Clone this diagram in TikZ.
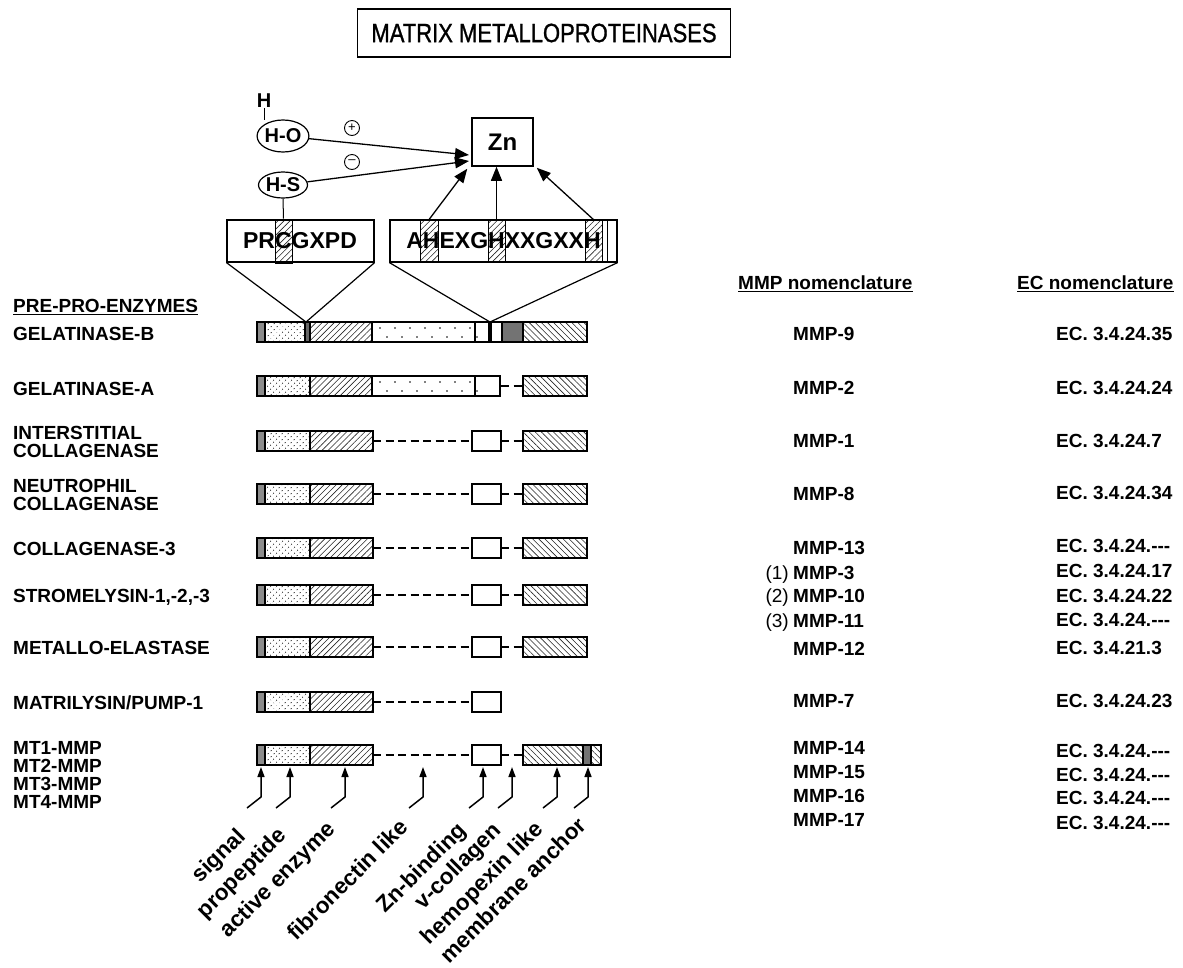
\documentclass[tikz,border=0pt]{standalone}
\usepackage{fontspec}
\setmainfont{Liberation Sans}
\newfontfamily\titlefont[FakeBold=1.2]{Liberation Sans}
\usetikzlibrary{patterns.meta,arrows.meta,shapes.geometric}
\newcommand{\fsz}[1]{\fontsize{#1}{#1}\selectfont}
\begin{document}
\begin{tikzpicture}[x=1pt,y=-1pt,
  every node/.style={inner sep=0pt},
  bt/.style={font=\bfseries\fsz{19}, anchor=base west},
  rg/.style={font=\fsz{19}, anchor=base east},
  rot/.style={font=\bfseries\fsz{22.5}, rotate=45, anchor=north east},
  outl/.style={line width=1.8pt},
  sep/.style={line width=1.1pt},
  dsh/.style={line width=1.6pt, dash pattern=on 8pt off 4.5pt},
  sigfill/.style={fill=black!45},
  profill/.style={pattern={Dots[angle=45,distance=4pt,radius=0.65pt]}, pattern color=black!90},
  actfill/.style={pattern={Lines[angle=45,distance=4.3pt,line width=0.6pt]}, pattern color=black!85},
  hemfill/.style={pattern={Lines[angle=-45,distance=4.3pt,line width=0.6pt]}, pattern color=black!85},
  colfill/.style={fill=black!55},
  arr/.style={-{Triangle[length=14pt,width=11pt]}, line width=1.3pt},
  sarr/.style={-{Triangle[length=10pt,width=7pt]}, line width=1.5pt},
  strip/.style={draw, line width=0.8pt, actfill, minimum height=44pt},
  mol/.style={ellipse, draw, line width=1.2pt, font=\bfseries\fsz{20}},
  chg/.style={circle, draw, line width=0.9pt, minimum size=15pt, font=\fsz{13}},
]
\useasboundingbox (0,0) rectangle (1183,967);

% ---------- title ----------
\node[draw, line width=1.2pt, minimum width=373pt, minimum height=48pt, font=\titlefont\fsz{22}] (title) at (544,33) {\scalebox{1}[1.2]{MATRIX METALLOPROTEINASES}};

% ---------- zinc site ----------
\node[mol, minimum width=50pt, minimum height=32pt] (HO) at (283,136) {H-O};
\node[font=\bfseries\fsz{20}] (H) at (264,101) {H};
\draw[line width=1pt] (H.south) -- ([yshift=-1pt]H.south |- HO.north);
\node[chg] (plus) at (352,128) {+};
\node[chg] (minus) at (352,162) {--};
\node[mol, minimum width=49pt, minimum height=26pt] (HS) at (283,185) {H-S};

\node[draw, line width=1.5pt, minimum width=61pt, minimum height=48pt, font=\bfseries\fsz{24}] (Zn) at (502.5,142) {Zn};

% PRCGXPD box
\node[strip, minimum width=17pt] (cs) at (283.5,241) {};
\node[draw, line width=1.2pt, minimum width=147pt, minimum height=42pt] (prc) at (300.5,241) {};
\node[font=\bfseries\fsz{23}] (prct) at (300,241) {PRCGXPD};

% AHEXGHXXGXXH box
\node[strip, minimum width=18pt, minimum height=42pt] (h1) at (429,241) {};
\node[strip, minimum width=17pt, minimum height=42pt] (h2) at (496.5,241) {};
\node[strip, minimum width=17pt, minimum height=42pt] (h3) at (593.5,241) {};
\node[draw, line width=1.2pt, minimum width=227pt, minimum height=42pt] (ahex) at (503.5,241) {};
\draw[line width=1pt] (607,220) -- (607,262);
\node[font=\bfseries\fsz{23}] (ahext) at (503.5,241) {AHEXGHXXGXXH};

\coordinate (zA) at (469,155);
\coordinate (zB) at (469,161);
\draw[arr] (HO) -- (zA);
\draw[arr] (HS) -- (zB);
\draw[line width=1pt] (HS.south) -- (cs.north);
\draw[arr] (h1.north) -- ([xshift=-4pt,yshift=-2pt]Zn.south west);
\draw[arr] (h2.north) -- (h2.north |- Zn.south);
\draw[arr] (h3.north) -- ([xshift=3pt,yshift=-1pt]Zn.south east);

% V connectors to the bar
\coordinate (v1) at (306,322);
\coordinate (v2) at (490,322);
\draw[line width=1.2pt] (prc.south west) -- (v1) -- (prc.south east);
\draw[line width=1.2pt] (ahex.south west) -- (v2) -- (ahex.south east);

% ---------- bar macros ----------
\newcommand\Nseg[1]{%
  \path[sigfill] (257,#1-10) rectangle (265,#1+10);
  \path[profill] (265,#1-10) rectangle (310,#1+10);
  \path[actfill] (310,#1-10) rectangle (373,#1+10);
  \draw[sep] (265,#1-10) -- (265,#1+10);
  \draw[line width=2.4pt] (310,#1-10) -- (310,#1+10);
  \draw[outl] (257,#1-10) rectangle (373,#1+10);}
\newcommand\Cseg[1]{%
  \draw[dsh] (373,#1) -- (472,#1);
  \draw[outl, fill=white] (472,#1-10) rectangle (501,#1+10);}
\newcommand\Hseg[1]{%
  \draw[dsh] (501,#1) -- (523,#1);
  \path[hemfill] (523,#1-10) rectangle (587,#1+10);
  \draw[outl] (523,#1-10) rectangle (587,#1+10);}
\newcommand\Fdots[1]{%
  \foreach \i in {0,...,6} {
    \fill (380+15*\i,#1-4) circle[radius=0.9pt];
    \fill (387+15*\i,#1+5) circle[radius=0.9pt];}}

% Gelatinase-B
\path[sigfill] (257,322) rectangle (265,342);
\path[profill] (265,322) rectangle (305,342);
\path[fill=black!60] (305,322) rectangle (310,342);
\path[actfill] (310,322) rectangle (372,342);
\Fdots{332}
\path[fill=black] (488,322) rectangle (492,342);
\path[colfill] (502,322) rectangle (523,342);
\path[hemfill] (523,322) rectangle (587,342);
\foreach \xx in {265,305,310,372,475,502,523} \draw[sep] (\xx,322) -- (\xx,342);
\draw[outl] (257,322) rectangle (587,342);

% Gelatinase-A
\path[sigfill] (257,376) rectangle (265,396);
\path[profill] (265,376) rectangle (310,396);
\path[actfill] (310,376) rectangle (372,396);
\Fdots{386}
\foreach \xx in {265,372,475} \draw[sep] (\xx,376) -- (\xx,396);
\draw[line width=2.4pt] (310,376) -- (310,396);
\draw[outl] (257,376) rectangle (500,396);
\Hseg{386}

% collagenase-like rows
\foreach \yy in {441,494,548,595,647} {\Nseg{\yy}\Cseg{\yy}\Hseg{\yy}}
% matrilysin
\Nseg{702}\Cseg{702}
% MT-MMP
\Nseg{755}\Cseg{755}
\draw[dsh] (501,755) -- (523,755);
\path[hemfill] (523,745) rectangle (583,765);
\path[fill=black!55] (583,745) rectangle (591,765);
\path[hemfill] (591,745) rectangle (601,765);
\draw[sep] (583,745) -- (583,765) (591,745) -- (591,765);
\draw[outl] (523,745) rectangle (601,765);

% ---------- domain pointers ----------
\foreach \n/\xx in {1/261,2/290,3/345,4/423,5/483,6/512,7/557,8/588} {
  \coordinate (t\n) at (\xx,767);
  \coordinate (b\n) at (\xx,797);
  \coordinate (e\n) at (\xx-14,808);
  \draw[sarr, line join=round] (e\n) -- (b\n) -- (t\n);
}
\node[rot] (l1) at (235,826) {signal};
\node[rot] (l2) at (276,825) {propeptide};
\node[rot] (l3) at (325,819) {active enzyme};
\node[rot] (l4) at (398,817) {fibronectin like};
\node[rot] (l5) at (456,820) {Zn-binding};
\node[rot] (l6) at (491,820) {v-collagen};
\node[rot] (l7) at (533,819) {hemopexin like};
\node[rot] (l8) at (576,815) {membrane anchor};

% ---------- left names ----------
\node[bt] (ppe) at (13,312) {PRE-PRO-ENZYMES};
\draw[line width=1pt] ([yshift=-2.5pt]ppe.base west) -- ([yshift=-2.5pt]ppe.base east);
\node[bt] (n1) at (13,340) {GELATINASE-B};
\node[bt] (n2) at (13,395) {GELATINASE-A};
\node[bt] (n3a) at (13,439) {INTERSTITIAL};
\node[bt] (n3b) at (13,457) {COLLAGENASE};
\node[bt] (n4a) at (13,492) {NEUTROPHIL};
\node[bt] (n4b) at (13,510) {COLLAGENASE};
\node[bt] (n5) at (13,555) {COLLAGENASE-3};
\node[bt] (n6) at (13,602) {STROMELYSIN-1,-2,-3};
\node[bt] (n7) at (13,654) {METALLO-ELASTASE};
\node[bt] (n8) at (13,709) {MATRILYSIN/PUMP-1};
\node[bt] (n9a) at (13,754) {MT1-MMP};
\node[bt] (n9b) at (13,772) {MT2-MMP};
\node[bt] (n9c) at (13,790) {MT3-MMP};
\node[bt] (n9d) at (13,808) {MT4-MMP};

% ---------- MMP column ----------
\node[bt] (mh) at (738,289) {MMP nomenclature};
\draw[line width=1pt] ([yshift=-2.5pt]mh.base west) -- ([yshift=-2.5pt]mh.base east);
\node[bt] (m9) at (793,340) {MMP-9};
\node[bt] (m2) at (793,394) {MMP-2};
\node[bt] (m1) at (793,447) {MMP-1};
\node[bt] (m8) at (793,500) {MMP-8};
\node[bt] (m13) at (793,554) {MMP-13};
\node[bt] (m3) at (793,579) {MMP-3};
\node[rg] at (789,579) {(1)};
\node[bt] (m10) at (793,602) {MMP-10};
\node[rg] at (789,602) {(2)};
\node[bt] (m11) at (793,627) {MMP-11};
\node[rg] at (789,627) {(3)};
\node[bt] (m12) at (793,655) {MMP-12};
\node[bt] (m7) at (793,707) {MMP-7};
\node[bt] (m14) at (793,754) {MMP-14};
\node[bt] (m15) at (793,778) {MMP-15};
\node[bt] (m16) at (793,802) {MMP-16};
\node[bt] (m17) at (793,826) {MMP-17};

% ---------- EC column ----------
\node[bt] (eh) at (1017,289) {EC nomenclature};
\draw[line width=1pt] ([yshift=-2.5pt]eh.base west) -- ([yshift=-2.5pt]eh.base east);
\node[bt] (e9) at (1056,340) {EC. 3.4.24.35};
\node[bt] (e2) at (1056,394) {EC. 3.4.24.24};
\node[bt] (e1) at (1056,447) {EC. 3.4.24.7};
\node[bt] (e8) at (1056,499) {EC. 3.4.24.34};
\node[bt] (e13) at (1056,552) {EC. 3.4.24.-{}-{}-};
\node[bt] (e3) at (1056,577) {EC. 3.4.24.17};
\node[bt] (e10) at (1056,602) {EC. 3.4.24.22};
\node[bt] (e11) at (1056,626) {EC. 3.4.24.-{}-{}-};
\node[bt] (e12) at (1056,654) {EC. 3.4.21.3};
\node[bt] (e7) at (1056,707) {EC. 3.4.24.23};
\node[bt] (e14) at (1056,757) {EC. 3.4.24.-{}-{}-};
\node[bt] (e15) at (1056,781) {EC. 3.4.24.-{}-{}-};
\node[bt] (e16) at (1056,804) {EC. 3.4.24.-{}-{}-};
\node[bt] (e17) at (1056,829) {EC. 3.4.24.-{}-{}-};
\end{tikzpicture}
\end{document}
